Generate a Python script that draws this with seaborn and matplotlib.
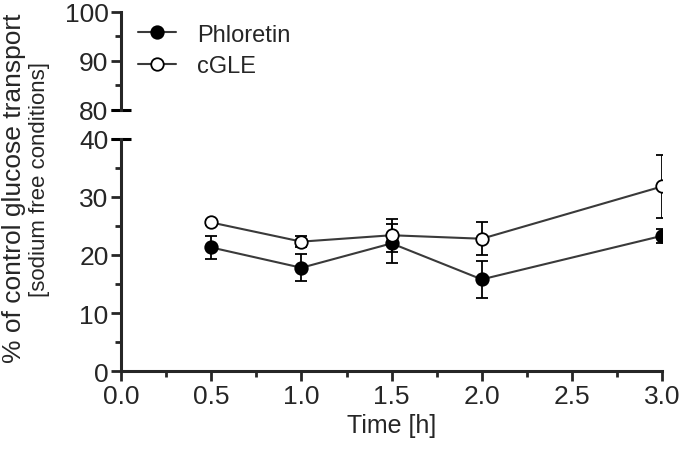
import matplotlib
matplotlib.use('Agg')
import matplotlib.pyplot as plt
import matplotlib.transforms as mtransforms
from matplotlib.ticker import MultipleLocator
import seaborn as sns
import pandas as pd

time_h = [0.5, 1.0, 1.5, 2.0, 3.0]
phloretin = [21.3, 17.8, 22.0, 15.8, 23.3]
phloretin_err = [2.0, 2.3, 3.3, 3.2, 1.2]
cgle = [25.6, 22.3, 23.4, 22.8, 31.8]
cgle_err = [0.4, 0.9, 2.8, 2.8, 5.4]

sns.set_style("ticks")
plt.rcParams['font.family'] = ['Liberation Sans', 'DejaVu Sans']

df = pd.DataFrame({'time': time_h * 2,
                   'value': phloretin + cgle,
                   'series': ['Phloretin'] * 5 + ['cGLE'] * 5})

fig = plt.figure(figsize=(6.84, 4.6), dpi=100)
ax = fig.add_axes([0.177, 0.191, 0.791, 0.505])
ax_top = fig.add_axes([0.177, 0.759, 0.791, 0.213])

line_col = '#3a3a3a'
for ax_i in (ax, ax_top):
    for name, vals, errs, face in [('Phloretin', phloretin, phloretin_err, 'black'),
                                   ('cGLE', cgle, cgle_err, 'white')]:
        sub = df[df['series'] == name]
        ax_i.errorbar(time_h, vals, yerr=errs, fmt='none', ecolor='black',
                      elinewidth=1.3, capsize=4, capthick=1.3, zorder=2)
        sns.lineplot(data=sub, x='time', y='value', ax=ax_i, color=line_col,
                     linewidth=1.5, marker='o', markersize=9,
                     markerfacecolor=face, markeredgecolor='black',
                     markeredgewidth=1.3, label=name, zorder=3)

for ax_i in (ax, ax_top):
    ax_i.set_xlim(0, 3.0)
    for s in ['top', 'right']:
        ax_i.spines[s].set_visible(False)
    ax_i.spines['left'].set_linewidth(2.2)
    ax_i.spines['bottom'].set_linewidth(2.2)
    ax_i.tick_params(which='major', length=7, width=2, labelsize=19, pad=2)
    ax_i.tick_params(which='minor', length=4, width=2)
    ax_i.set_xlabel('')
    ax_i.set_ylabel('')

ax.set_ylim(0, 40)
ax.yaxis.set_major_locator(MultipleLocator(10))
ax.yaxis.set_minor_locator(MultipleLocator(5))
ax.xaxis.set_major_locator(MultipleLocator(0.5))
ax.xaxis.set_minor_locator(MultipleLocator(0.25))
ax.xaxis.set_major_formatter(matplotlib.ticker.FormatStrFormatter('%.1f'))
ax.get_legend().remove()
ax.set_xlabel('Time [h]', fontsize=18, labelpad=4)

ax_top.set_ylim(80, 100)
ax_top.yaxis.set_major_locator(MultipleLocator(10))
ax_top.yaxis.set_minor_locator(MultipleLocator(5))
ax_top.spines['bottom'].set_visible(False)
ax_top.set_xticks([])
ax_top.xaxis.set_minor_locator(matplotlib.ticker.NullLocator())
ax_top.patch.set_alpha(0)

# break marks
for ax_i, yv in ((ax_top, 80), (ax, 40)):
    tr = mtransforms.blended_transform_factory(ax_i.transAxes, ax_i.transData)
    ax_i.plot([-0.018, 0.018], [yv, yv], color='black', lw=2.2,
              transform=tr, clip_on=False, solid_capstyle='butt')

leg = ax_top.legend(loc='upper left', bbox_to_anchor=(0.01, 1.0), frameon=False,
                    fontsize=17, handlelength=1.6, handletextpad=0.9,
                    labelspacing=0.4, borderaxespad=0.1)

fig.text(0.021, 0.591, '% of control glucose transport', rotation=90,
         ha='center', va='center', fontsize=19)
fig.text(0.058, 0.609, '[sodium free conditions]', rotation=90,
         ha='center', va='center', fontsize=16)

fig.savefig('out.png', dpi=100)
